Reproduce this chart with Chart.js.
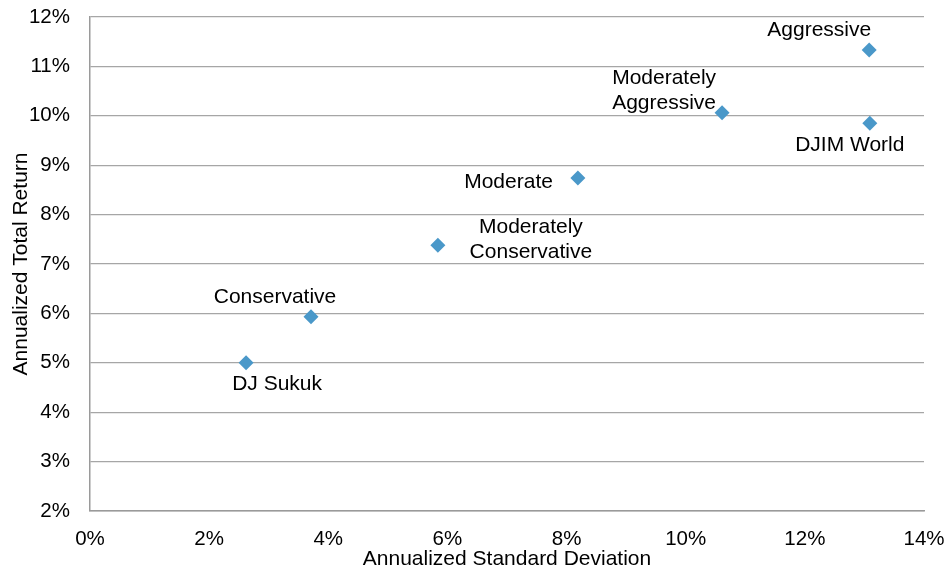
<!DOCTYPE html>
<html>
<head>
<meta charset="utf-8">
<script src="https://cdn.jsdelivr.net/npm/chart.js@4/dist/chart.umd.min.js"></script>
<style>
  body { margin: 0; background: #fff; }
  #wrap { width: 947px; height: 571px; }
</style>
</head>
<body>
<div id="wrap"><canvas id="myChart" width="947" height="571"></canvas></div>
<script>
    // portfolio data (values in %)
    const names = ["Aggressive", "Moderately\nAggressive", "DJIM World", "Moderate", "Moderately\nConservative", "Conservative", "DJ Sukuk"];
    const stdDev = [13.08, 10.61, 13.09, 8.19, 5.84, 3.71, 2.62];
    const totalReturn = [11.33, 10.06, 9.85, 8.74, 7.38, 5.93, 5.0];
    const xTicks = [0, 2, 4, 6, 8, 10, 12, 14];
    const yTicks = [2, 3, 4, 5, 6, 7, 8, 9, 10, 11, 12];

    // where each label sits relative to its marker: [dx, dy, align]
    const labelPlace = [
        [2, -20, "right"],
        [-6, -35, "right"],
        [-20, 22, "center"],
        [-25, 4, "right"],
        [93, -18, "center"],
        [-36, -20, "center"],
        [31, 21, "center"]
    ];

    const FONT = "'Liberation Sans', Arial, sans-serif";

    const pointLabels = {
        id: "pointLabels",
        afterDatasetsDraw(chart) {
            const c = chart.ctx;
            const meta = chart.getDatasetMeta(0);
            c.save();
            c.font = "21px " + FONT;
            c.fillStyle = "#000";
            c.textBaseline = "middle";
            meta.data.forEach((pt, i) => {
                const [dx, dy, align] = labelPlace[i];
                c.textAlign = align;
                const lines = names[i].split("\n");
                lines.forEach((ln, j) => {
                    c.fillText(ln, pt.x + dx, pt.y + dy + j * 25);
                });
            });
            c.restore();
        }
    };

    var ctx = document.getElementById('myChart').getContext('2d');
    var myChart = new Chart(ctx, {
        type: 'scatter',
        data: {
            datasets: [{
                data: stdDev.map((x, i) => ({ x: x, y: totalReturn[i] })),
                pointStyle: 'rectRot',
                pointRadius: 7.5,
                pointHoverRadius: 7.5,
                backgroundColor: '#4A98C9',
                borderColor: '#4A98C9',
                borderWidth: 0
            }]
        },
        options: {
            responsive: false,
            animation: false,
            layout: { padding: { top: 17, right: 23, left: 0, bottom: 0 } },
            plugins: {
                legend: { display: false },
                tooltip: { enabled: false }
            },
            scales: {
                x: {
                    type: 'linear',
                    min: 0, max: 14,
                    afterBuildTicks: s => { s.ticks = xTicks.map(v => ({ value: v })); },
                    afterFit: s => { s.height = 60; s.paddingLeft = 0; s.paddingRight = 0; },
                    grid: { display: false, drawTicks: false },
                    border: { display: true, color: '#9a9a9a', width: 1.5 },
                    ticks: {
                        padding: 16,
                        color: '#000',
                        font: { size: 20.5, family: FONT },
                        maxRotation: 0,
                        callback: v => v + '%'
                    },
                    title: {
                        display: true,
                        text: 'Annualized Standard Deviation',
                        color: '#000',
                        font: { size: 21, family: FONT },
                        padding: { top: 0, bottom: -1 }
                    }
                },
                y: {
                    min: 2, max: 12,
                    afterBuildTicks: s => { s.ticks = yTicks.map(v => ({ value: v })); },
                    afterFit: s => { s.width = 90; s.paddingTop = 0; s.paddingBottom = 0; },
                    grid: { color: '#a6a6a6', lineWidth: 1.3, drawTicks: false },
                    border: { display: true, color: '#9a9a9a', width: 1.5 },
                    ticks: {
                        padding: 20,
                        color: '#000',
                        font: { size: 20.5, family: FONT },
                        callback: v => v + '%'
                    },
                    title: {
                        display: true,
                        text: 'Annualized Total Return',
                        color: '#000',
                        font: { size: 21, family: FONT },
                        padding: { top: 9, bottom: 0 }
                    }
                }
            }
        },
        plugins: [pointLabels]
    });
</script>
</body>
</html>
